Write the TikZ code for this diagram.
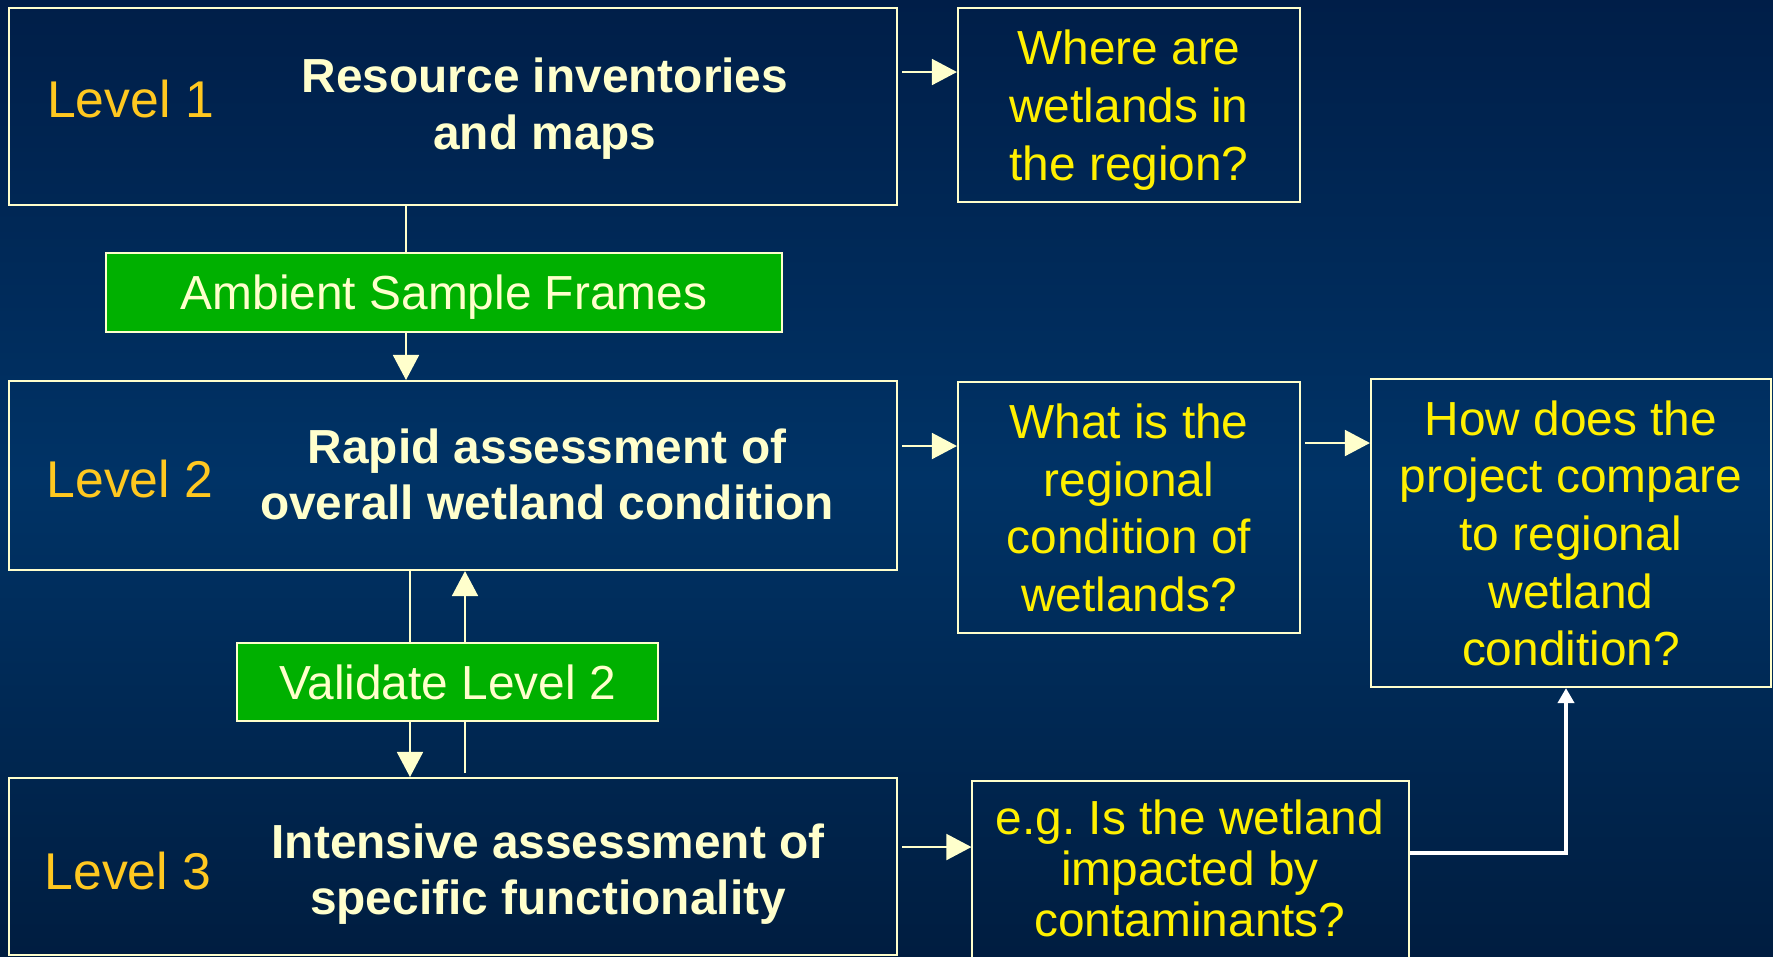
\documentclass[tikz,border=0pt]{standalone}
\usepackage{fontspec}
\setmainfont{Liberation Sans}
\usepackage{xcolor}
\usetikzlibrary{arrows.meta,positioning,calc}

\definecolor{navytop}{HTML}{001E48}
\definecolor{navymid}{HTML}{003366}
\definecolor{navybot}{HTML}{001D40}
\definecolor{cream}{HTML}{FFFFCC}
\definecolor{gold}{HTML}{FFC820}
\definecolor{qyellow}{HTML}{FFF000}
\definecolor{framegreen}{HTML}{00B000}

\begin{document}
\begin{tikzpicture}[x=0.01cm,y=-0.01cm,
  stagebox/.style={draw=cream,line width=0.55pt,inner sep=0pt},
  greenbox/.style={stagebox,fill=framegreen,text=cream,text depth=0pt,font=\fontsize{13.6}{16}\selectfont},
  question/.style={stagebox,text=qyellow,align=center,text depth=0pt,font=\fontsize{13.6}{16.4}\selectfont},
  lvl/.style={text=gold,font=\fontsize{14.7}{17}\selectfont},
  task/.style={text=cream,align=center,text depth=0pt,font=\bfseries\fontsize{13.6}{16.1}\selectfont},
  link/.style={draw=cream,line width=0.5pt},
  arr/.style={link,-{Triangle[length=0.25cm,width=0.26cm]}},
  back/.style={draw=white,line width=1.1pt,-{Triangle[length=0.15cm,width=0.16cm]}}]
\useasboundingbox (0,0) rectangle (1773,956);
\clip (0,0) rectangle (1773,956);
% middle color has to come last, or it is reset
\shade[top color=navytop,bottom color=navybot,middle color=navymid] (0,0) rectangle (1773,956);

% three levels, left column
\node[stagebox,minimum width=8.88cm,minimum height=1.97cm] (l1) at (453,106.5) {};
\node[lvl] (lv1) at (130.5,99.5) {Level 1};
\node[task] (t1) at (545,103.5) {Resource inventories\\and maps};

\node[stagebox,minimum width=8.88cm,minimum height=1.89cm] (l2) at (453,475.5) {};
\node[lvl] (lv2) at (130,479) {Level 2};
\node[task] (t2) at (547,474) {Rapid assessment of\\overall wetland condition};

\node[stagebox,minimum width=8.88cm,minimum height=1.77cm] (l3) at (453,866.5) {};
\node[lvl] (lv3) at (128,870.5) {Level 3};
\node[task] (t3) at (548,869) {Intensive assessment of\\specific functionality};

% green steps between the levels
\node[greenbox,minimum width=6.76cm,minimum height=0.79cm] (ambient) at (444,292.5) {Ambient Sample Frames};
\node[greenbox,minimum width=4.21cm,minimum height=0.78cm] (validate) at (447.5,682) {Validate Level 2};

% questions
\node[question,minimum width=3.42cm,minimum height=1.94cm] (where) at (1129,105) {Where are\\wetlands in\\the region?};
\node[question,minimum width=3.42cm,minimum height=2.51cm] (what) at (1129,507.5) {What is the\\regional\\condition of\\wetlands?};
\node[question,minimum width=4.0cm,minimum height=3.08cm] (how) at (1571,533) {How does the\\project compare\\to regional\\wetland\\condition?};
\node[stagebox,minimum width=4.36cm,minimum height=1.94cm] (eg) at (1190.5,878) {};
\node[text=qyellow,align=center,font=\fontsize{13.6}{14.5}\selectfont] (egtext) at (1190,868) {e.g.\ Is the wetland\\impacted by\\contaminants?};

% connectors
\draw[link] (l1.south -| 406,0) -- (ambient.north -| 406,0);
\draw[arr] (ambient.south -| 406,0) -- (l2.north -| 406,0);
\draw[link] (l2.south -| 410,0) -- (validate.north -| 410,0);
\draw[arr] (validate.south -| 410,0) -- (l3.north -| 410,0);
\draw[link] (465,773) -- (validate.south -| 465,0);
\draw[arr] (validate.north -| 465,0) -- (l2.south -| 465,0);

\draw[arr,shorten <=0.04cm] (l1.east |- 0,72) -- (where.west |- 0,72);
\draw[arr,shorten <=0.04cm] (l2.east |- 0,446) -- (what.west |- 0,446);
\draw[arr,shorten <=0.04cm] (what.east |- 0,443) -- (how.west |- 0,443);
\draw[arr,shorten <=0.04cm] (l3.east |- 0,847) -- (eg.west |- 0,847);
\draw[back] (eg.east |- 0,853) -| (1566,0 |- how.south);
\end{tikzpicture}
\end{document}
